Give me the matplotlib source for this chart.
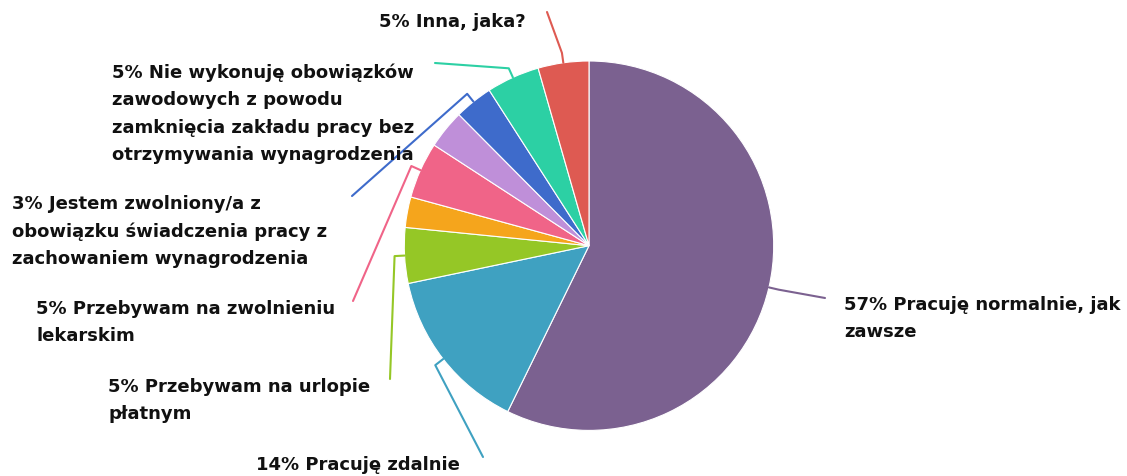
import numpy as np
import matplotlib
matplotlib.use('Agg')
import matplotlib.pyplot as plt

# dane (udział w %)
values = [57.25, 14.47, 4.86, 2.67, 4.92, 3.39, 3.36, 4.64, 4.44]
labels = [
    '57% Pracuję normalnie, jak\nzawsze',
    '14% Pracuję zdalnie',
    '5% Przebywam na urlopie\npłatnym',
    None,
    '5% Przebywam na zwolnieniu\nlekarskim',
    None,
    '3% Jestem zwolniony/a z\nobowiązku świadczenia pracy z\nzachowaniem wynagrodzenia',
    '5% Nie wykonuję obowiązków\nzawodowych z powodu\nzamknięcia zakładu pracy bez\notrzymywania wynagrodzenia',
    '5% Inna, jaka?',
]
colors = ['#7B6190', '#3FA1C1', '#95C726', '#F5A51C', '#F06488',
          '#BF8FD9', '#3E6BCB', '#2CD0A4', '#DE5A52']

# układ (piksele obrazu, y w dół)
W, H = 1127, 477
cx, cy, R = 589, 246.7, 184.7
LINE = 27  # odstęp wierszy w px
# koniec łącznika i pozycja tekstu (x lewy, linia bazowa 1. wiersza)
conn_end = [(825, 299), (483, 458), (390, 380), None, (353, 302), None,
            (352, 197), (435, 64), (547, 13)]
text_pos = [(844, 310), (256, 470), (108, 392), None, (36, 314), None,
            (12, 210), (112, 79), (379, 27)]


def P(x, y):
    return x, H - y


fig = plt.figure(figsize=(W / 100, H / 100), dpi=100)
ax = fig.add_axes([0, 0, 1, 1])

ax.pie(values, colors=colors, center=P(cx, cy), radius=R, startangle=90,
       counterclock=False, wedgeprops=dict(linewidth=0.8, edgecolor='white'))

total = sum(values)
cum = np.cumsum(values)
for i, (v, lab) in enumerate(zip(values, labels)):
    if lab is None:
        continue
    mid = 360 * (cum[i] - v / 2) / total
    ang = np.radians(90 - mid)
    x0, y0 = P(cx, cy)
    ex, ey = x0 + R * np.cos(ang), y0 + R * np.sin(ang)
    bx, by = x0 + (R + 10) * np.cos(ang), y0 + (R + 10) * np.sin(ang)
    tx, ty = P(*conn_end[i])
    ax.plot([ex, bx, tx], [ey, by, ty], color=colors[i], lw=1.5,
            solid_joinstyle='round', solid_capstyle='round')
    # va='baseline' wyrównuje ostatni wiersz, więc przesuwamy o liczbę wierszy
    nl = lab.count('\n')
    px, py = P(text_pos[i][0], text_pos[i][1] + nl * LINE)
    ax.text(px, py, lab, ha='left', va='baseline', fontsize=13,
            fontweight='bold', family='DejaVu Sans', color='#111111',
            linespacing=1.665)

ax.set_xlim(0, W)
ax.set_ylim(0, H)
ax.set_aspect('equal')
ax.axis('off')

fig.savefig('out.png', dpi=100, facecolor='white')
